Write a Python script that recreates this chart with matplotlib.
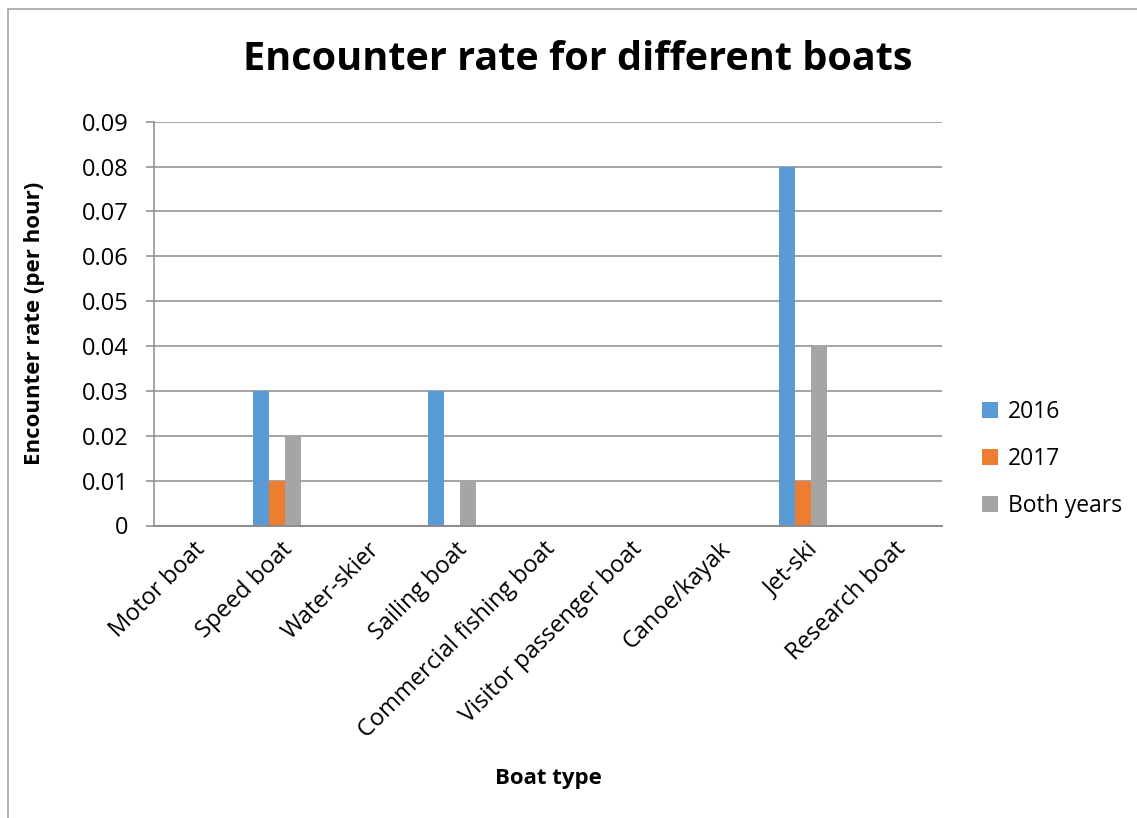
import matplotlib.pyplot as plt
import matplotlib.transforms as mtransforms
import numpy as np
from matplotlib.patches import Rectangle

plt.rcParams['font.family'] = ['Open Sans', 'DejaVu Sans']

boats = ['Motor boat', 'Speed boat', 'Water-skier', 'Sailing boat',
         'Commercial fishing boat', 'Visitor passenger boat', 'Canoe/kayak',
         'Jet-ski', 'Research boat']
rate_2016 = [0, 0.03, 0, 0.03, 0, 0, 0, 0.08, 0]
rate_2017 = [0, 0.01, 0, 0, 0, 0, 0, 0.01, 0]
rate_both = [0, 0.02, 0, 0.01, 0, 0, 0, 0.04, 0]
series = ['2016', '2017', 'Both years']
colors = ['#5B9BD5', '#ED7D31', '#A5A5A5']
yticks = [0, 0.01, 0.02, 0.03, 0.04, 0.05, 0.06, 0.07, 0.08, 0.09]

W, H = 1137, 818
fig = plt.figure(figsize=(W / 100, H / 100), dpi=100)
ax = fig.add_axes([154 / W, 1 - 525.5 / H, (942 - 154) / W, (525.5 - 121.7) / H])

# outer chart frame
fig.patches.append(Rectangle((8 / W, -0.1), 1.2, 1 - 9 / H + 0.1,
                             transform=fig.transFigure, fill=False,
                             edgecolor='#A6A6A6', linewidth=1.2))

# four bar slots per category, the last one left empty
x = np.arange(len(boats))
bw = 0.183
for i, (vals, name, c) in enumerate(zip([rate_2016, rate_2017, rate_both], series, colors)):
    ax.bar(x + (i - 1.5) * bw, vals, bw, color=c, label=name, align='center')

ax.set_xlim(-0.5, len(boats) - 0.5)
ax.set_ylim(0, 0.09)
ax.set_yticks(yticks)
ax.set_yticklabels(['0'] + [f'{v:.2f}' for v in yticks[1:]])
ax.yaxis.grid(True, color='#8C8C8C', linewidth=1.1)
ax.set_axisbelow(True)
for s in ['top', 'right']:
    ax.spines[s].set_visible(False)
ax.spines['left'].set_color('#8C8C8C')
ax.spines['bottom'].set_color('#8C8C8C')
ax.spines['left'].set_linewidth(1.1)
ax.spines['bottom'].set_linewidth(1.4)
ax.tick_params(axis='y', length=6, width=1.1, color='#8C8C8C', labelsize=17, pad=12.5)
ax.tick_params(axis='x', length=0, labelsize=17, pad=8.5)
ax.set_xticks(x)
ax.set_xticklabels(boats, rotation=45, ha='right', va='top', rotation_mode='anchor')
shift = mtransforms.ScaledTranslation(-5 / 100, 0, fig.dpi_scale_trans)
for lab in ax.get_xticklabels():
    lab.set_transform(lab.get_transform() + shift)

ax.set_ylabel('Encounter rate (per hour)', fontsize=16, fontweight='bold', labelpad=26)
ax.set_xlabel('Boat type', fontsize=16, fontweight='bold', labelpad=18)
fig.text(578 / W, 1 - 60 / H, 'Encounter rate for different boats',
         fontsize=28.5, fontweight='bold', ha='center', va='center')

ax.legend(loc='center left', bbox_to_anchor=(1.025, 0.165), frameon=False,
          fontsize=16.5, handlelength=0.7, handleheight=0.7,
          handletextpad=0.4, labelspacing=1.0)

fig.savefig('out.png', dpi=100)
